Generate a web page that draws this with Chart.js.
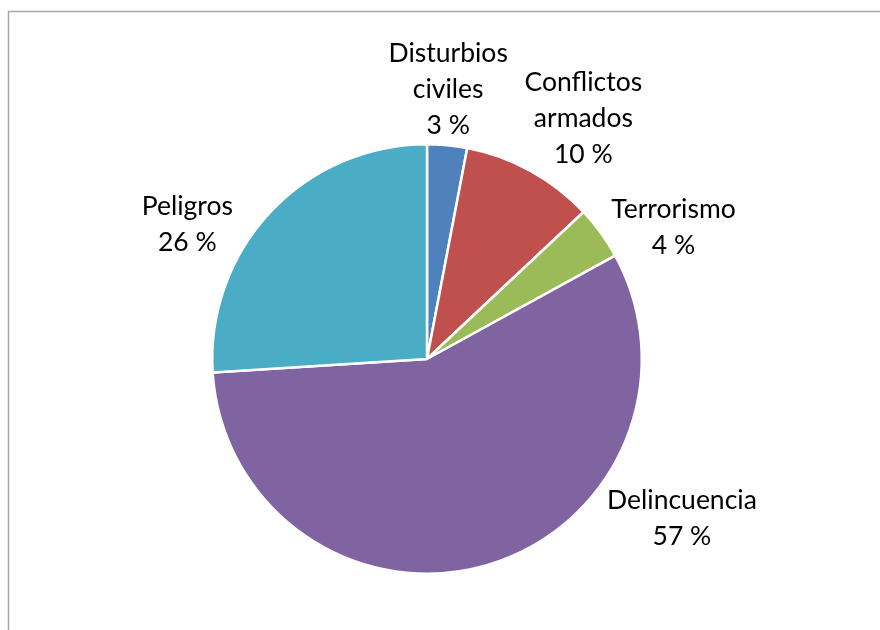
<!DOCTYPE html>
<html>
<head>
<meta charset="utf-8">
<script src="https://cdn.jsdelivr.net/npm/chart.js@4"></script>
<style>
  body { margin: 0; background: #fff; }
  canvas { display: block; }
</style>
</head>
<body>
<canvas id="myChart" width="880" height="630"></canvas>
<script>
const ctx = document.getElementById("myChart").getContext("2d");

// data
const categories = ['Disturbios civiles', 'Conflictos armados', 'Terrorismo', 'Delincuencia', 'Peligros'];
const shares = [3, 10, 4, 57, 26];
const sliceColors = ['#4F81BD', '#C0504D', '#9BBB59', '#8064A2', '#4BACC6'];

// where each label sits: angle (deg, clockwise from top) and distance in radii from the centre
const labelPlacement = [
  { angle: 4.5, dist: 1.257 },
  { angle: 33, dist: 1.337 },
  { angle: 62, dist: 1.30 },
  { angle: 122, dist: 1.40 },
  { angle: 299.3, dist: 1.28 }
];

// grey frame, only left and top show in the picture
const framePlugin = {
  id: 'frame',
  beforeDraw(chart) {
    const c = chart.ctx;
    c.save();
    c.strokeStyle = '#A6A6A6';
    c.lineWidth = 1.5;
    c.beginPath();
    c.moveTo(8.5, chart.height);
    c.lineTo(8.5, 11.5);
    c.lineTo(chart.width, 11.5);
    c.stroke();
    c.restore();
  }
};

// outside labels like Excel's "best fit"
const outsideLabels = {
  id: 'outsideLabels',
  afterDatasetsDraw(chart) {
    const c = chart.ctx;
    const meta = chart.getDatasetMeta(0);
    const lineH = 36;
    c.save();
    c.font = '26.5px Lato';
    c.fillStyle = '#000';
    c.textAlign = 'center';
    c.textBaseline = 'middle';
    meta.data.forEach((arc, i) => {
      const p = labelPlacement[i];
      const a = p.angle * Math.PI / 180;
      const cx = arc.x + Math.sin(a) * arc.outerRadius * p.dist;
      const cy = arc.y - Math.cos(a) * arc.outerRadius * p.dist;
      const lines = categories[i].split(' ').concat([shares[i] + ' %']);
      const top = cy - (lines.length - 1) * lineH / 2;
      lines.forEach((t, k) => c.fillText(t, cx, top + k * lineH));
    });
    c.restore();
  }
};

const myChart = new Chart(ctx, {
  type: 'pie',
  data: {
    labels: categories,
    datasets: [{
      data: shares,
      backgroundColor: sliceColors,
      borderColor: '#FFFFFF',
      borderWidth: 2.5
    }]
  },
  options: {
    responsive: false,
    animation: false,
    layout: { padding: { left: 211, right: 237, top: 143, bottom: 55 } },
    plugins: {
      legend: { display: false },
      tooltip: { enabled: false }
    }
  },
  plugins: [framePlugin, outsideLabels]
});
</script>
</body>
</html>
